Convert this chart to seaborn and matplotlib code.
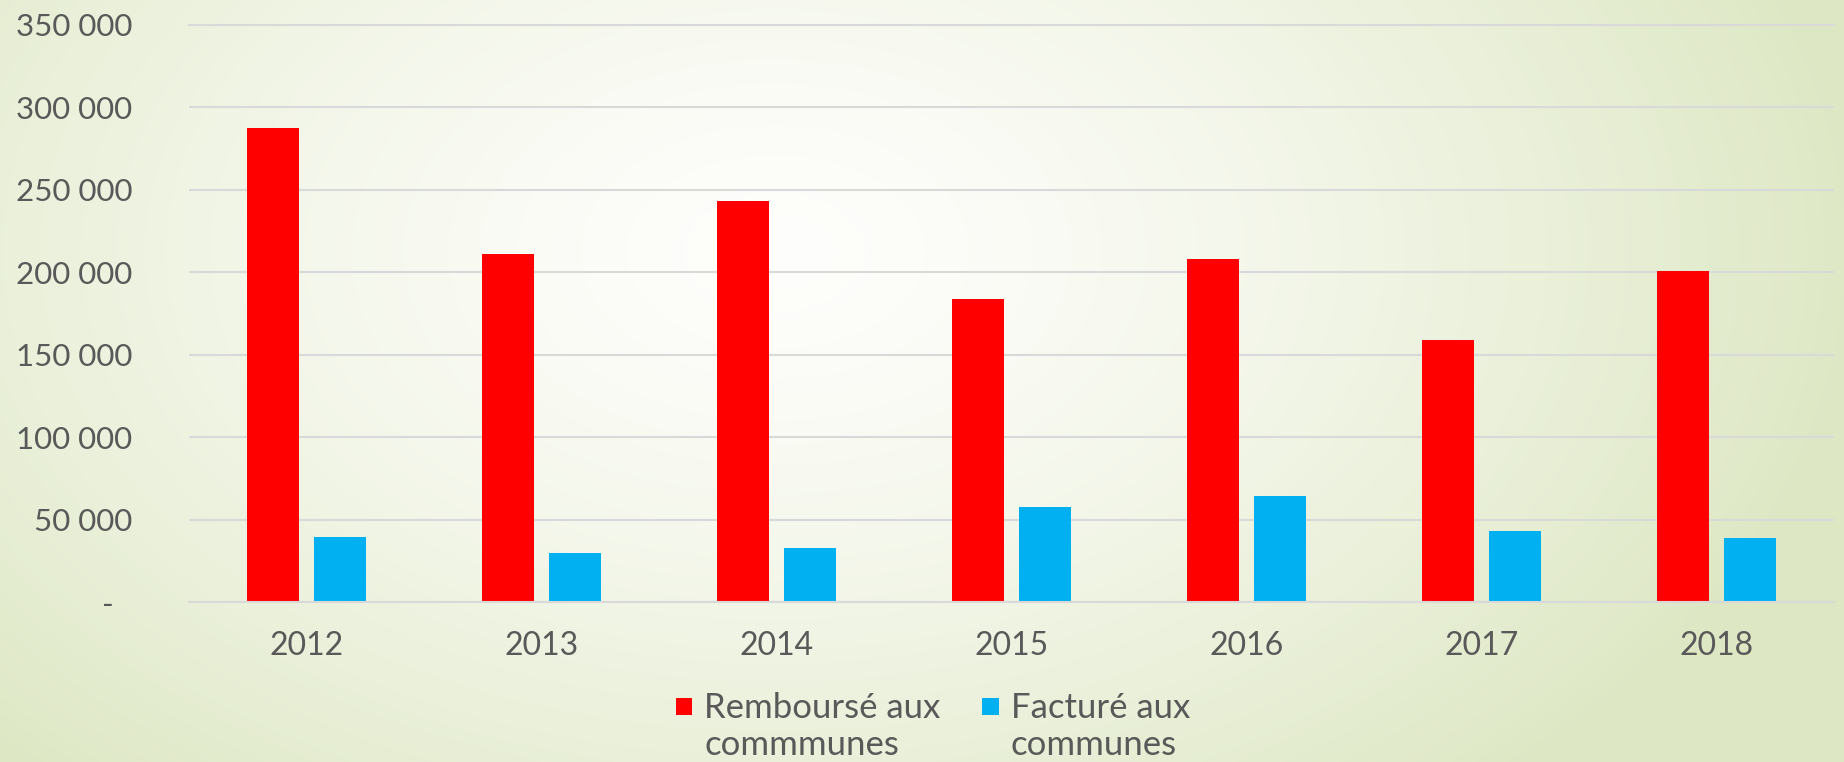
import numpy as np
import pandas as pd
import matplotlib
matplotlib.use("Agg")
import matplotlib.pyplot as plt
import matplotlib.transforms as mtransforms
from matplotlib.patches import Rectangle
from matplotlib.legend_handler import HandlerPatch
from matplotlib.ticker import FuncFormatter
import seaborn as sns

# ---- data ----
years = ["2012", "2013", "2014", "2015", "2016", "2017", "2018"]
rembourse = [287500, 211200, 243500, 184000, 208300, 159000, 200800]
facture = [39400, 29500, 32500, 57700, 64400, 42800, 39000]
series_labels = ["Remboursé aux\ncommmunes", "Facturé aux\ncommunes"]
series_colors = ["#FF0000", "#00B0F0"]
yticks = [0, 50000, 100000, 150000, 200000, 250000, 300000, 350000]

df = pd.DataFrame({
    "Année": years + years,
    "Montant": rembourse + facture,
    "Série": [series_labels[0]] * len(years) + [series_labels[1]] * len(years),
})

sns.set_style("white")
plt.rcParams['font.family'] = ['Lato', 'DejaVu Sans']
TXT = "#595959"
GRID = "#d9d9d9"

W, H = 1844, 762
fig = plt.figure(figsize=(W / 100, H / 100), dpi=100)

# ---- background gradient ----
bg = fig.add_axes([0, 0, 1, 1])
xx, yy = np.meshgrid(np.linspace(0, 1, 400), np.linspace(0, 1, 200))
d = np.sqrt(((xx - 0.42) / 0.6) ** 2 + ((yy - 0.33) / 0.95) ** 2)
t = np.clip(d, 0, 1) ** 1.4
c0 = np.array([254, 254, 252]) / 255.0
c1 = np.array([221, 231, 195]) / 255.0
img = c0[None, None, :] * (1 - t[..., None]) + c1[None, None, :] * t[..., None]
bg.imshow(img, aspect="auto", extent=[0, 1, 1, 0], interpolation="bilinear")
bg.set_xlim(0, 1)
bg.set_ylim(1, 0)
bg.axis("off")

# ---- main axes ----
ax = fig.add_axes([189 / W, 1 - 602 / H, (1834 - 189) / W, (602 - 25) / H])
ax.set_facecolor("none")
sns.barplot(data=df, x="Année", y="Montant", hue="Série", hue_order=series_labels,
            palette=series_colors, saturation=1, width=0.57, gap=0.21,
            linewidth=0, ax=ax)

ax.set_ylim(0, 350000)
ax.set_yticks(yticks)
ax.yaxis.set_major_formatter(FuncFormatter(
    lambda v, p: "-" if v == 0 else f"{int(v):,}".replace(",", " ")))
ax.grid(axis="y", color=GRID, linewidth=1.5)
ax.set_axisbelow(True)
for s in ["left", "right"]:
    ax.spines[s].set_visible(False)
for s in ["top", "bottom"]:
    ax.spines[s].set_color(GRID)
    ax.spines[s].set_linewidth(1.5)
ax.set_xlabel("")
ax.set_ylabel("")
ax.tick_params(axis="y", length=0, pad=41, labelsize=22.5, labelcolor=TXT)
ax.tick_params(axis="x", length=0, pad=21, labelsize=23, labelcolor=TXT)

# shift the zero label ("-") like Excel's accounting format
ticks = ax.yaxis.get_major_ticks()
lab0 = ticks[0].label1
lab0.set_transform(lab0.get_transform() +
                   mtransforms.ScaledTranslation(-18 / 100, 0, fig.dpi_scale_trans))

# ---- legend ----
handles, labels = ax.get_legend_handles_labels()
if ax.get_legend() is not None:
    ax.get_legend().remove()


def square(legend, orig_handle, xdescent, ydescent, width, height, fontsize):
    s = width
    return Rectangle((-xdescent, -ydescent + height / 2 - s / 2 + 0.6 * fontsize), s, s)


hmap = {type(h): HandlerPatch(patch_func=square) for h in handles}
fig.legend(handles, labels, loc="upper center", bbox_to_anchor=(0.506, 1 - 692 / H),
           ncol=2, frameon=False, fontsize=25, handlelength=0.47, handleheight=0.47,
           handletextpad=0.35, columnspacing=1.2, borderpad=0, borderaxespad=0,
           labelcolor=TXT, handler_map=hmap)

fig.savefig("out.png", dpi=100)
